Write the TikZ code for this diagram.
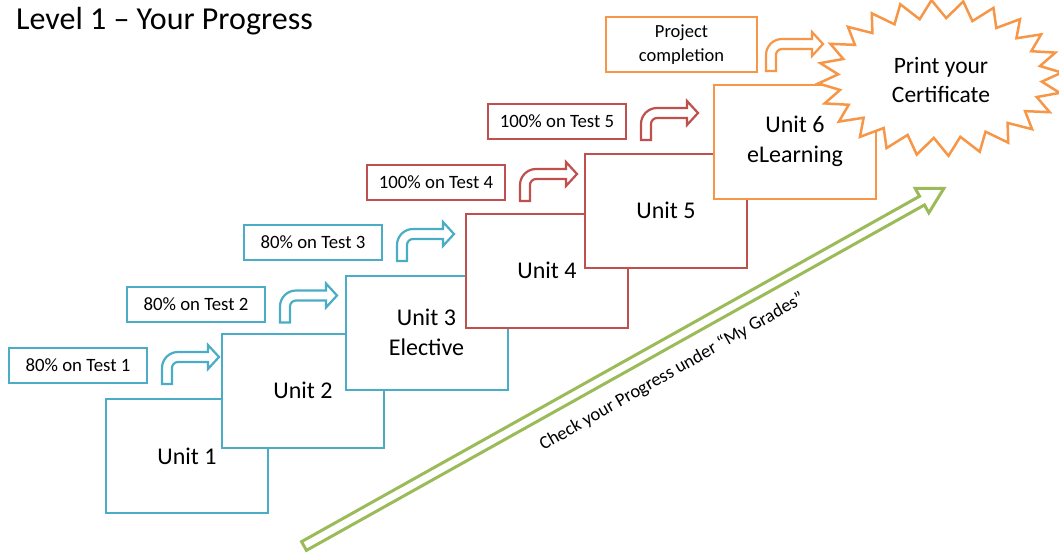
\documentclass[tikz,border=0pt]{standalone}
\usepackage{fontspec}
\setmainfont{Carlito}
\definecolor{cblue}{HTML}{4BACC6}
\definecolor{cred}{HTML}{C0504D}
\definecolor{corange}{HTML}{F79646}
\definecolor{cgreen}{HTML}{9BBB59}
\tikzset{
  unitbox/.style={draw, line width=2pt, fill=white, minimum width=162pt, minimum height=114pt,
    align=center, inner sep=0pt, font=\fontsize{24}{30}\selectfont},
  testbox/.style={draw, line width=2pt, fill=white, minimum width=138pt, minimum height=35pt,
    align=center, inner sep=0pt, font=\fontsize{18.8}{22}\selectfont},
  pics/bentarr/.style={code={
    \draw[line width=2.2pt, fill=white, line join=miter, draw=#1]
      (0,0) -- (0,16) arc[start angle=180, end angle=90, radius=16pt]
      -- (46,32) -- (46,39) -- (57,27) -- (46,15) -- (46,22) -- (16,22)
      arc[start angle=90, end angle=180, radius=6pt] -- (10,0) -- cycle;
  }}
}
\begin{document}
\begin{tikzpicture}[x=1pt, y=1pt]
\useasboundingbox (0,0) rectangle (1059,-557);
\clip (0,0) rectangle (1059,-557);

% title
\node[anchor=west, inner sep=0pt, font=\fontsize{32}{36}\selectfont] (title) at (16,-21) {Level 1 – Your Progress};

% progress arrow along the staircase
\begin{scope}[shift={(304,-546)}, rotate=29.2]
  \draw[cgreen, line width=3pt, fill=white, line join=miter]
    (0,-5) -- (708,-5) -- (708,-14) -- (733,0) -- (708,14) -- (708,5) -- (0,5) -- cycle;
\end{scope}
\node[rotate=29.6, font=\fontsize{18.5}{22}\selectfont, inner sep=0pt] (check) at (672,-372)
  {Check your Progress under “My Grades”};

% unit steps, each one in front of the previous
\node[unitbox, draw=cblue]   (u1) at (187,-456)   {Unit 1};
\node[unitbox, draw=cblue]   (u2) at (303,-390.5) {Unit 2};
\node[unitbox, draw=cblue]   (u3) at (426.5,-332.5) {Unit 3\\Elective};
\node[unitbox, draw=cred]    (u4) at (547,-270.5) {Unit 4};
\node[unitbox, draw=cred]    (u5) at (666,-210.5) {Unit 5};
\node[unitbox, draw=corange] (u6) at (795,-141.5) {Unit 6\\eLearning};

% test requirements
\node[testbox, draw=cblue] (t1) at (78,-365.5)  {80\% on Test 1};
\node[testbox, draw=cblue] (t2) at (196,-304)   {80\% on Test 2};
\node[testbox, draw=cblue] (t3) at (313,-242.5) {80\% on Test 3};
\node[testbox, draw=cred]  (t4) at (436,-182.5) {100\% on Test 4};
\node[testbox, draw=cred]  (t5) at (557,-121.5) {100\% on Test 5};
\node[testbox, draw=corange, minimum width=151pt, minimum height=55pt,
      font=\fontsize{18.5}{24}\selectfont] (t6) at (681.5,-44.5) {Project\\completion};

% bent arrows from each requirement to the next step
\pic at ([xshift=14pt]t1.south east) {bentarr=cblue};
\pic at ([xshift=14pt]t2.south east) {bentarr=cblue};
\pic at ([xshift=14pt]t3.south east) {bentarr=cblue};
\pic at ([xshift=14pt]t4.south east) {bentarr=cred};
\pic at ([xshift=14pt]t5.south east) {bentarr=cred};
\pic at ([xshift=8pt, yshift=2pt]t6.south east) {bentarr=corange};

% certificate starburst
\draw[corange, line width=2.5pt, fill=white, line join=miter]
  plot[samples=48, domain=0:47, variable=\k]
  ({940 + (122 - 20*mod(round(\k),2))*cos(\k*7.5 + 4)},
   {-78 + (78 - 18*mod(round(\k),2))*sin(\k*7.5 + 4)}) -- cycle;
\node[align=center, font=\fontsize{23.5}{29}\selectfont, inner sep=0pt] (cert) at (941,-80)
  {Print your\\Certificate};
\end{tikzpicture}
\end{document}
